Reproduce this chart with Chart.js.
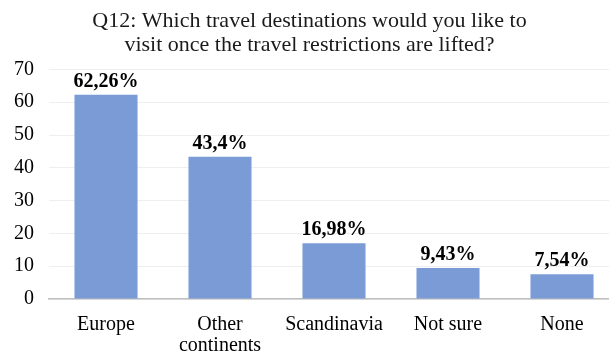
<!DOCTYPE html>
<html lang="en">
<head>
    <meta charset="UTF-8">
    <title>Q12 travel destinations</title>
    <script src="https://cdn.jsdelivr.net/npm/chart.js@4.4.0/dist/chart.umd.min.js"></script>
    <style>
        html, body { margin: 0; padding: 0; background: #fff; overflow: hidden; }
        #wrap { width: 609px; height: 354px; overflow: hidden; }
    </style>
</head>
<body>
<div id="wrap">
    <canvas id="q12Chart" width="619" height="354"></canvas>
</div>
<script>
    // answers to Q12 (share of respondents, %)
    var destinations = ['Europe', ['Other', 'continents'], 'Scandinavia', 'Not sure', 'None'];
    var shares = [62.26, 43.4, 16.98, 9.43, 7.54];
    var yTicks = [0, 10, 20, 30, 40, 50, 60, 70];

    var serif = '"Liberation Serif", "Times New Roman", serif';

    // writes the value above each bar, e.g. "62,26%"
    var barValues = {
        id: 'barValues',
        afterDatasetsDraw: function(chart) {
            var ctx = chart.ctx;
            var meta = chart.getDatasetMeta(0);
            ctx.save();
            ctx.font = 'bold 20px ' + serif;
            ctx.fillStyle = '#000';
            ctx.textAlign = 'center';
            ctx.textBaseline = 'alphabetic';
            meta.data.forEach(function(bar, i) {
                var txt = String(shares[i]).replace('.', ',') + '%';
                ctx.fillText(txt, bar.x, bar.y - 8);
            });
            ctx.restore();
        }
    };

    var ctx = document.getElementById('q12Chart').getContext('2d');
    var chart = new Chart(ctx, {
        type: 'bar',
        data: {
            labels: destinations,
            datasets: [{
                data: shares,
                backgroundColor: 'rgb(122, 155, 214)',
                borderWidth: 0,
                barPercentage: 0.553,
                categoryPercentage: 1
            }]
        },
        options: {
            responsive: false,
            animation: false,
            devicePixelRatio: 1,
            layout: { padding: { left: 0, right: 0, top: 0, bottom: 0 } },
            plugins: {
                legend: { display: false },
                tooltip: { enabled: false },
                title: {
                    display: true,
                    text: ['Q12: Which travel destinations would you like to',
                           'visit once the travel restrictions are lifted?'],
                    color: '#1a1a1a',
                    font: { family: serif, size: 22, weight: 'normal', lineHeight: 1.1 },
                    padding: { top: 9, bottom: 12 }
                }
            },
            scales: {
                x: {
                    grid: { display: false, drawTicks: false },
                    border: { display: true, color: '#bfbfbf', width: 1.5 },
                    ticks: {
                        color: '#000',
                        padding: 15,
                        maxRotation: 0,
                        autoSkip: false,
                        font: { family: serif, size: 20, lineHeight: 1.05 }
                    },
                    afterFit: function(scale) { scale.height = 55; }
                },
                y: {
                    min: 0,
                    max: 70,
                    afterBuildTicks: function(scale) {
                        scale.ticks = yTicks.map(function(v) { return { value: v }; });
                    },
                    grid: { color: '#eeeeee', drawTicks: false },
                    border: { display: false },
                    ticks: {
                        color: '#000',
                        padding: 15,
                        font: { family: serif, size: 20 }
                    },
                    afterFit: function(scale) { scale.width = 49; }
                }
            }
        },
        plugins: [barValues]
    });
</script>
</body>
</html>
